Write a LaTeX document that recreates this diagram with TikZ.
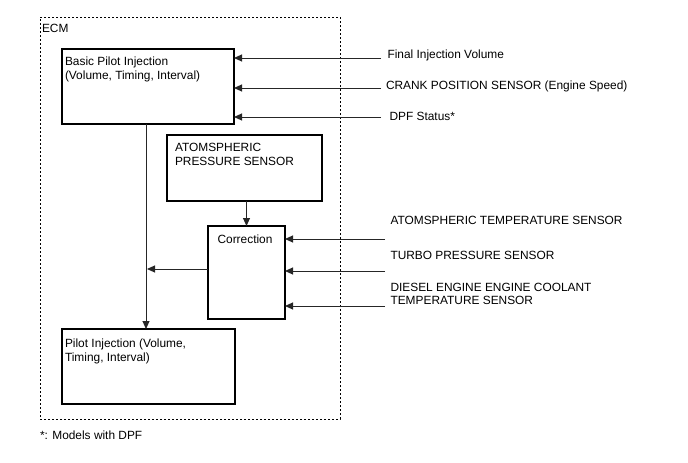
\documentclass[tikz,border=0pt]{standalone}
\usepackage{fontspec}
\setmainfont{Liberation Sans}
\usetikzlibrary{arrows.meta}
\begin{document}
\begin{tikzpicture}[x=1pt,y=-1pt,
  box/.style={draw=black, line width=1.7pt, rectangle, inner sep=0pt, outer sep=0pt},
  ecmbox/.style={draw=black, line width=1pt, dash pattern=on 2pt off 2pt, rectangle, inner sep=0pt, outer sep=0pt},
  arr/.style={draw=black!85, line width=1pt, -{Triangle[length=8pt,width=7pt]}},
  txt/.style={inner sep=0pt, outer sep=0pt, font=\fontsize{11.9}{14}\selectfont, align=left},
  txtb/.style={inner sep=0pt, outer sep=0pt, font=\fontsize{11.9}{13}\selectfont, align=left}
]
\useasboundingbox (0,0) rectangle (688,463);

% boxes
\node[ecmbox, minimum width=300pt, minimum height=402pt] (ecm) at (190,218) {};
\node[box, minimum width=172pt, minimum height=75pt] (basic) at (148,86.5) {};
\node[box, minimum width=155pt, minimum height=66pt] (atm) at (244.5,168) {};
\node[box, minimum width=77pt, minimum height=93pt] (corr) at (246.5,272.5) {};
\node[box, minimum width=173pt, minimum height=75pt] (pilot) at (148.5,366.5) {};

% texts inside
\node[txt, anchor=base west] (ecmt) at (42,32) {ECM};
\node[txt, anchor=north west] (basict) at (65,56.5) {Basic Pilot Injection\\(Volume, Timing, Interval)};
\node[txt, anchor=north west] (atmt) at (175,143) {ATOMSPHERIC\\PRESSURE SENSOR};
\node[txt, anchor=base] (corrt) at (245,243) {Correction};
\node[txt, anchor=north west] (pilott) at (65,339) {Pilot Injection (Volume,\\Timing, Interval)};

% outside labels
\node[txt, anchor=base west] (l1) at (387.5,58) {Final Injection Volume};
\node[txt, anchor=base west] (l2) at (386,89) {CRANK POSITION SENSOR (Engine Speed)};
\node[txt, anchor=base west] (l3) at (389.5,120) {DPF Status*};
\node[txt, anchor=base west] (l4) at (390.5,224) {ATOMSPHERIC TEMPERATURE SENSOR};
\node[txt, anchor=base west] (l5) at (390.5,259) {TURBO PRESSURE SENSOR};
\node[txtb, anchor=north west] (l6) at (390.5,283) {DIESEL ENGINE ENGINE COOLANT\\TEMPERATURE SENSOR};
\node[txt, anchor=base west] (foot) at (40,439) {*: Models with DPF};

% connector coordinates
\coordinate (in1) at (381,58);
\coordinate (in2) at (381,88);
\coordinate (in3) at (381,117);
\coordinate (in4) at (385,239);
\coordinate (in5) at (385,271);
\coordinate (in6) at (385,306);
\coordinate (v) at (146,0);
\coordinate (jn) at (147,269);

% connectors
\draw[arr] (in1) -- (basic.east |- in1);
\draw[arr] (in2) -- (basic.east |- in2);
\draw[arr] (in3) -- (basic.east |- in3);
\draw[arr] (in4) -- (corr.east |- in4);
\draw[arr] (in5) -- (corr.east |- in5);
\draw[arr] (in6) -- (corr.east |- in6);
\draw[arr] (atm.south -| corr.north) -- (corr.north);
\draw[arr] (corr.west |- jn) -- (jn);
\draw[arr] (basic.south -| v) -- (pilot.north -| v);
\end{tikzpicture}
\end{document}
